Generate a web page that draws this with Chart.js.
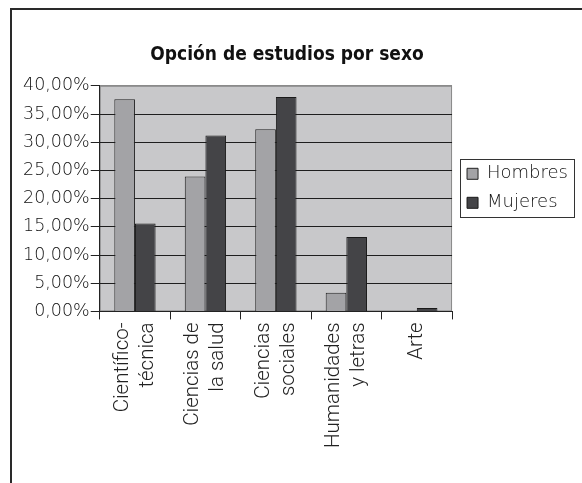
<!DOCTYPE html>
<html>
<head>
<meta charset="utf-8">
<title>Opción de estudios por sexo</title>
<script src="https://cdn.jsdelivr.net/npm/chart.js@4.4.1/dist/chart.umd.min.js"></script>
<style>
    html, body { margin: 0; padding: 0; background: #fff; overflow: hidden; }
    #marco {
        position: absolute; left: 10px; top: 8px; width: 600px; height: 500px;
        border-top: 2px solid #2a2a2a; border-left: 2px solid #2a2a2a;
    }
    #grafico { position: absolute; left: 0; top: 0; }
</style>
</head>
<body>
<div id="marco"></div>
<canvas id="grafico" width="582" height="483"></canvas>
<script>
"use strict"

// categorias (dos líneas por etiqueta)
const categorias = [
    ["Científico-", "técnica"],
    ["Ciencias de", "la salud"],
    ["Ciencias", "sociales"],
    ["Humanidades", "y letras"],
    ["Arte"]
];
const series = ["Hombres", "Mujeres"];
const hombres = [37.6, 23.9, 32.3, 3.3, 0];
const mujeres = [15.6, 31.2, 38.0, 13.2, 0.6];
const yTicks = [0, 5, 10, 15, 20, 25, 30, 35, 40];

window.onload = function () {

    // fondo gris del area del grafico
    let fondoPlot = {
        id: 'fondoPlot',
        beforeDraw: function (chart) {
            const ctx = chart.ctx;
            const a = chart.chartArea;
            ctx.save();
            ctx.fillStyle = '#c8c8ca';
            ctx.fillRect(a.left, a.top, a.right - a.left, a.bottom - a.top);
            ctx.strokeStyle = '#8a8a8a';
            ctx.lineWidth = 1;
            ctx.strokeRect(a.left + 0.5, a.top + 0.5, a.right - a.left - 1, a.bottom - a.top - 1);
            ctx.restore();
        }
    };

    // mueve la leyenda y el titulo, y dibuja el marco de la leyenda
    let leyendaMarco = {
        id: 'leyendaMarco',
        afterLayout: function (chart) {
            const lg = chart.legend;
            lg.left += 4; lg.right += 4;
            lg.top += 68; lg.bottom += 68;
            const t = chart.titleBlock;
            t.left -= 11; t.right -= 11;
        },
        afterDraw: function (chart) {
            const boxes = chart.legend.legendHitBoxes;
            if (!boxes || !boxes.length) return;
            let left = Infinity, right = -Infinity;
            boxes.forEach(function (b) {
                left = Math.min(left, b.left);
                right = Math.max(right, b.left + b.width);
            });
            const top = boxes[0].top;
            const last = boxes[boxes.length - 1];
            const bottom = last.top + last.height;
            const ctx = chart.ctx;
            ctx.save();
            ctx.strokeStyle = '#333';
            ctx.lineWidth = 1;
            ctx.strokeRect(Math.round(left - 7) + 0.5, Math.round(top - 6) + 0.5,
                Math.round(right - left + 13), Math.round(bottom - top + 11));
            ctx.restore();
        }
    };

    const ctx = document.getElementById('grafico').getContext('2d');
    new Chart(ctx, {
        type: 'bar',
        data: {
            labels: categorias,
            datasets: [{
                label: series[0],
                data: hombres,
                backgroundColor: '#a3a3a6',
                borderColor: '#222',
                borderWidth: 1
            }, {
                label: series[1],
                data: mujeres,
                backgroundColor: '#444447',
                borderColor: '#1a1a1a',
                borderWidth: 1
            }]
        },
        options: {
            responsive: false,
            animation: false,
            devicePixelRatio: 1,
            categoryPercentage: 0.586,
            barPercentage: 1,
            layout: {
                padding: { left: 22, right: 8, top: 0, bottom: 32 }
            },
            plugins: {
                title: {
                    display: true,
                    text: 'Opción de estudios por sexo',
                    color: '#111',
                    font: { family: '"DejaVu Sans Condensed", "DejaVu Sans"', size: 19, weight: 'bold', lineHeight: 1.2 },
                    padding: { top: 44, bottom: 19 }
                },
                legend: {
                    position: 'right',
                    align: 'start',
                    fullSize: false,
                    labels: {
                        boxWidth: 11,
                        boxHeight: 11,
                        padding: 11,
                        color: '#111',
                        font: { family: '"DejaVu Sans"', size: 18, weight: 200 }
                    }
                },
                tooltip: { enabled: false }
            },
            scales: {
                x: {
                    grid: {
                        offset: true,
                        drawOnChartArea: false,
                        drawTicks: true,
                        tickLength: 8,
                        tickColor: '#222'
                    },
                    border: { color: '#222', width: 1 },
                    ticks: {
                        autoSkip: false,
                        minRotation: 90,
                        maxRotation: 90,
                        padding: 3,
                        labelOffset: -12.5,
                        color: '#222',
                        font: { family: 'Roboto', size: 20.5, weight: 300, lineHeight: 1.22 },
                        // etiqueta de una linea: sin desplazamiento extra
                        showLabelBackdrop: function (c) { return categorias[c.index].length === 1; },
                        backdropColor: 'rgba(0,0,0,0)'
                    }
                },
                y: {
                    min: yTicks[0],
                    max: yTicks[yTicks.length - 1],
                    grid: {
                        color: function (c) { return c.tick.value === yTicks[yTicks.length - 1] ? '#8a8a8a' : '#1e1e1e'; },
                        tickLength: 9,
                        tickColor: '#222'
                    },
                    border: { color: '#222', width: 1 },
                    ticks: {
                        stepSize: yTicks[1] - yTicks[0],
                        padding: 1,
                        color: '#111',
                        font: { family: '"DejaVu Sans"', size: 17.5, weight: 200 },
                        callback: function (value) {
                            return value.toFixed(2).replace('.', ',') + '%';
                        }
                    }
                }
            }
        },
        plugins: [fondoPlot, leyendaMarco]
    });
}
</script>
</body>
</html>
